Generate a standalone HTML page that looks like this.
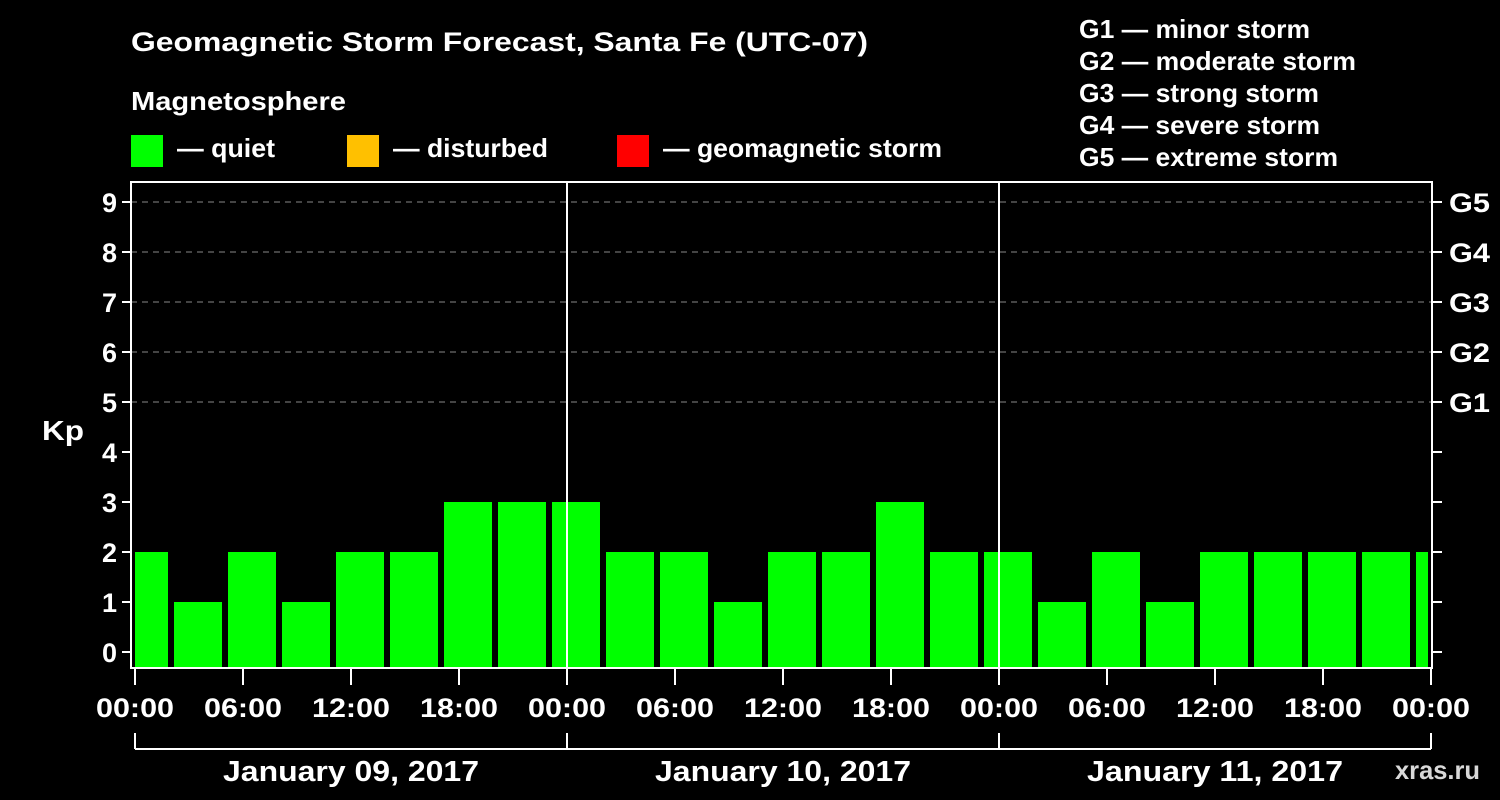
<!DOCTYPE html>
<html><head><meta charset="utf-8"><style>
html,body{margin:0;padding:0;background:#000;}
svg{display:block;font-family:"Liberation Sans",Arial,sans-serif;font-weight:bold;}
</style></head><body>
<svg id="chart" width="1500" height="800" viewBox="0 0 1500 800">
<rect width="1500" height="800" fill="#000"/>
<text x="131" y="51" fill="#fff" font-size="27" textLength="737" lengthAdjust="spacingAndGlyphs">Geomagnetic Storm Forecast, Santa Fe (UTC-07)</text>
<text x="131" y="110" fill="#fff" font-size="26" textLength="215" lengthAdjust="spacingAndGlyphs">Magnetosphere</text>
<g><rect x="131" y="135" width="32" height="32" fill="#00ff00"/><text x="177" y="157" fill="#fff" font-size="26" textLength="98" lengthAdjust="spacingAndGlyphs">— quiet</text></g>
<g><rect x="347" y="135" width="32" height="32" fill="#ffc000"/><text x="393" y="157" fill="#fff" font-size="26" textLength="155" lengthAdjust="spacingAndGlyphs">— disturbed</text></g>
<g><rect x="617" y="135" width="32" height="32" fill="#ff0000"/><text x="663" y="157" fill="#fff" font-size="26" textLength="279" lengthAdjust="spacingAndGlyphs">— geomagnetic storm</text></g>
<g fill="#fff" font-size="26" lengthAdjust="spacingAndGlyphs">
<text x="1079" y="38" textLength="231" lengthAdjust="spacingAndGlyphs">G1 — minor storm</text>
<text x="1079" y="70" textLength="277" lengthAdjust="spacingAndGlyphs">G2 — moderate storm</text>
<text x="1079" y="102" textLength="240" lengthAdjust="spacingAndGlyphs">G3 — strong storm</text>
<text x="1079" y="134" textLength="241" lengthAdjust="spacingAndGlyphs">G4 — severe storm</text>
<text x="1079" y="166" textLength="259" lengthAdjust="spacingAndGlyphs">G5 — extreme storm</text>
</g>
<text x="42" y="440" fill="#fff" font-size="28" textLength="42" lengthAdjust="spacingAndGlyphs">Kp</text>
<text x="1395" y="779" fill="#fff" font-size="26" textLength="85" lengthAdjust="spacingAndGlyphs" opacity="0.85">xras.ru</text>
<defs><clipPath id="pc"><rect x="135" y="182" width="1293" height="490"/></clipPath></defs>
<g id="grid"></g><g id="bars" clip-path="url(#pc)"></g><g id="axes"></g>
</svg>
<script>
const kpValues=[2,1,2,1,2,2,3,3,3,2,2,1,2,2,3,2,2,1,2,1,2,2,2,2,2];
const kpTicks=[0,1,2,3,4,5,6,7,8,9];
const gLabels=["G1","G2","G3","G4","G5"];
const timeLabels=["00:00","06:00","12:00","18:00","00:00","06:00","12:00","18:00","00:00","06:00","12:00","18:00","00:00"];
const dayLabels=["January 09, 2017","January 10, 2017","January 11, 2017"];
const NS="http://www.w3.org/2000/svg";
const x=h=>135+18*h;
const y=v=>652-50*v;
function mk(t,a,p){const e=document.createElementNS(NS,t);for(const k in a)e.setAttribute(k,a[k]);p.appendChild(e);return e;}
const grid=document.getElementById('grid'),bars=document.getElementById('bars'),axes=document.getElementById('axes');
kpTicks.forEach(v=>{
 if(v>=5){const l=mk('line',{x1:131,x2:1432,y1:y(v),y2:y(v),stroke:'#888','stroke-dasharray':'6,5','stroke-width':1},grid);
 
 }
 const t=mk('line',{x1:122,x2:131,y1:y(v),y2:y(v),stroke:'#fff','stroke-width':2},axes);
 
 
 const t2=mk('line',{x1:1432,x2:1442,y1:y(v),y2:y(v),stroke:'#fff','stroke-width':2},axes);
 
 
 const tx=mk('text',{x:117,y:y(v)+10,fill:'#fff','font-size':27,'text-anchor':'end'},axes);tx.textContent=v;
 
 
 if(v>=5){const g=mk('text',{x:1449,y:y(v)+10,fill:'#fff','font-size':27,textLength:41,lengthAdjust:'spacingAndGlyphs'},axes);g.textContent=gLabels[v-5];
 
 }
});
kpValues.forEach((v,i)=>{
 const c=x(0.5+3*i);
 const r=mk('rect',{x:c-24,y:y(v),width:48,height:668-y(v),fill:v>=5?'#ff0000':(v>=4?'#ffc000':'#00ff00')},bars);
 
 
});
[1,2].forEach(d=>{const l=mk('line',{x1:x(24*d),x2:x(24*d),y1:182,y2:668,stroke:'#fff','stroke-width':2},axes);
 
 });
const frame=mk('rect',{x:131,y:182,width:1301,height:486,fill:'none',stroke:'#fff','stroke-width':2},axes);


timeLabels.forEach((s,i)=>{const h=6*i;
 const t=mk('line',{x1:x(h),x2:x(h),y1:668,y2:685,stroke:'#fff','stroke-width':2},axes);
 
 
 const tx=mk('text',{x:x(h),y:717,fill:'#fff','font-size':27,'text-anchor':'middle',textLength:78,lengthAdjust:'spacingAndGlyphs'},axes);tx.textContent=s;
 
 
});
const br=mk('line',{x1:x(0),x2:x(72),y1:749,y2:749,stroke:'#fff','stroke-width':2},axes);


[0,24,48,72].forEach(h=>{const l=mk('line',{x1:x(h),x2:x(h),y1:733,y2:749,stroke:'#fff','stroke-width':2},axes);
 
 });
dayLabels.forEach((s,i)=>{const tx=mk('text',{x:x(24*i+12),y:781,fill:'#fff','font-size':29,'text-anchor':'middle',textLength:256,lengthAdjust:'spacingAndGlyphs'},axes);tx.textContent=s;
 
 });
</script>
</body></html>
